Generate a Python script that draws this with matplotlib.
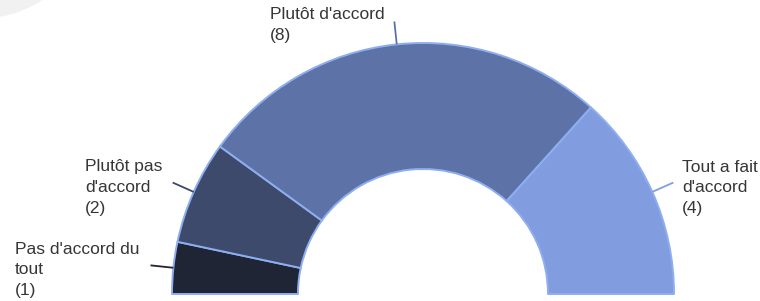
import matplotlib
matplotlib.use("Agg")
import matplotlib.pyplot as plt
import numpy as np
from matplotlib.patches import Circle

categories = ["Pas d'accord du\ntout", "Plutôt pas\nd'accord", "Plutôt d'accord", "Tout a fait\nd'accord"]
values = [1, 2, 8, 4]
colors = ["#1f2535", "#3d4a6b", "#5d73a7", "#819ddf"]

W, H = 760, 301
fig = plt.figure(figsize=(W / 100, H / 100), dpi=100)
ax = fig.add_axes([0, 0, 1, 1])

cx, cy = 423, 7          # centre in pixel coords (y up)
R, width = 251, 126

total = sum(values)
wedges, _ = ax.pie(values + [total], radius=R, center=(cx, cy), startangle=180,
                   counterclock=False, colors=colors + ["none"],
                   wedgeprops=dict(width=width, edgecolor="#8eaef0", linewidth=1.4,
                                   joinstyle="round"))
wedges[-1].set_visible(False)

ax.add_patch(Circle((-22, H + 100), 119, color="#f1f1f1", zorder=0, lw=0))

# label positions (text block left x, centre y in pixel coords with y down)
label_pos = [(15, 270), (85, 188), (270, 25), (682, 188)]
ang = 180.0
for i, (lab, v) in enumerate(zip(categories, values)):
    span = 180.0 * v / total
    mid = np.deg2rad(ang - span / 2)
    ang -= span
    x0, y0 = cx + R * np.cos(mid), cy + R * np.sin(mid)
    x1, y1 = cx + (R + 23) * np.cos(mid), cy + (R + 23) * np.sin(mid)
    ax.plot([x0, x1], [y0, y1], color=colors[i], lw=1.3, solid_capstyle="butt")
    tx, ty = label_pos[i]
    ax.text(tx, H - ty, f"{lab}\n({v})", ha="left", va="center", ma="left",
            fontsize=12.5, family="Liberation Sans", color="#363636", linespacing=1.5)

ax.set_xlim(0, W)
ax.set_ylim(0, H)
ax.set_aspect("equal")
ax.axis("off")
fig.savefig("out.png", dpi=100)
